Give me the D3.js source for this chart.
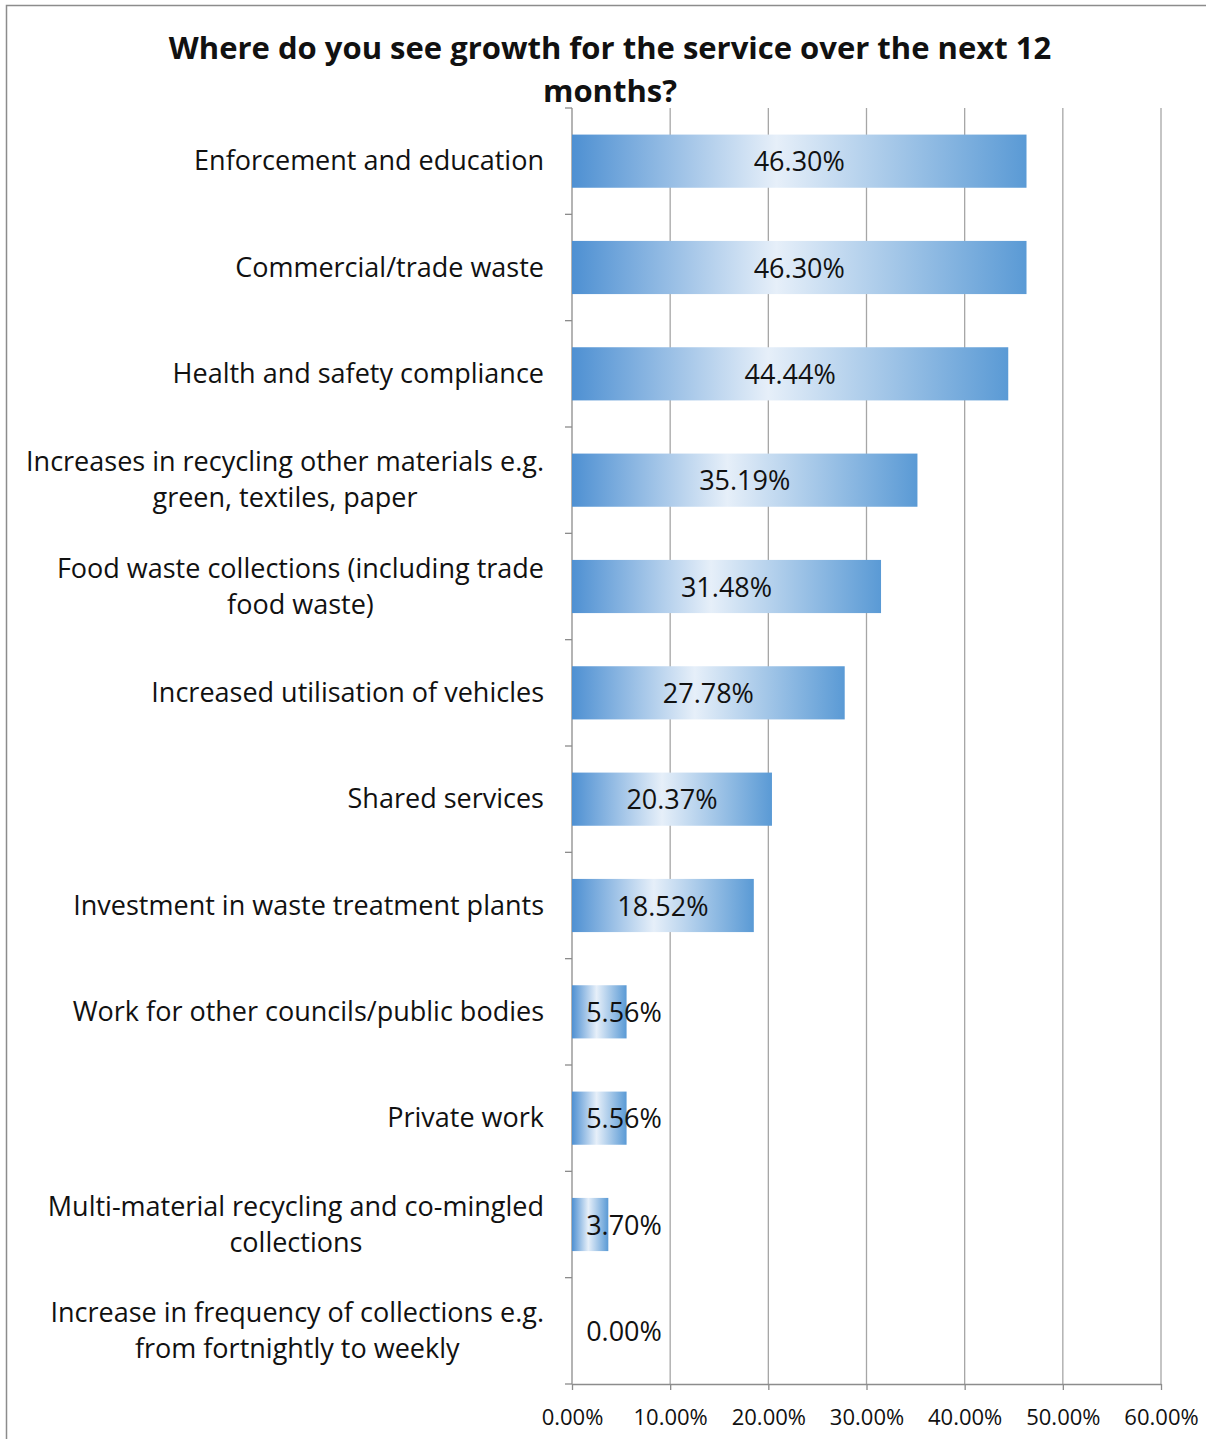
<!DOCTYPE html>
<html>
<head>
<meta charset="utf-8">
<script src="https://cdn.jsdelivr.net/npm/d3@7"></script>
<style>
  body { margin: 0; background: #fff; }
  text { font-family: "Open Sans", "Noto Sans", sans-serif; fill: #111; }
</style>
</head>
<body>
<div id="chart"></div>
<script>
const titleLines = ["Where do you see growth for the service over the next 12", "months?"];

const categories = [
  ["Enforcement and education"],
  ["Commercial/trade waste"],
  ["Health and safety compliance"],
  ["Increases in recycling other materials e.g.", "green, textiles, paper"],
  ["Food waste collections (including trade", "food waste)"],
  ["Increased utilisation of vehicles"],
  ["Shared services"],
  ["Investment in waste treatment plants"],
  ["Work for other councils/public bodies"],
  ["Private work"],
  ["Multi-material recycling and co-mingled", "collections"],
  ["Increase in frequency of collections e.g.", "from fortnightly to weekly"]
];
const values = [46.30, 46.30, 44.44, 35.19, 31.48, 27.78, 20.37, 18.52, 5.56, 5.56, 3.70, 0.00];
const xTicks = [0, 10, 20, 30, 40, 50, 60];

const width = 1206, height = 1439;
const plot = { left: 572, right: 1161, top: 108, bottom: 1384 };

const svg = d3.select("#chart").append("svg")
  .attr("width", width)
  .attr("height", height);

// outer chart border
svg.append("rect")
  .attr("x", 6.5).attr("y", 5.5)
  .attr("width", width + 10).attr("height", height + 10)
  .attr("fill", "none").attr("stroke", "#8c8c8c").attr("stroke-width", 1.5);

const grad = svg.append("defs").append("linearGradient")
  .attr("id", "barGrad")
  .attr("x1", "0%").attr("x2", "100%").attr("y1", "0%").attr("y2", "0%");
grad.append("stop").attr("offset", "0%").attr("stop-color", "#4e90d2");
grad.append("stop").attr("offset", "45%").attr("stop-color", "#e6eff9");
grad.append("stop").attr("offset", "100%").attr("stop-color", "#5a9ad5");

const x = d3.scaleLinear().domain([0, 60]).range([plot.left, plot.right]);
const y = d3.scaleBand()
  .domain(d3.range(categories.length))
  .range([plot.top, plot.bottom])
  .paddingInner(0.5)
  .paddingOuter(0.25);

// title
svg.append("g").selectAll("text")
  .data(titleLines)
  .join("text")
  .attr("x", 610)
  .attr("y", (d, i) => 59 + i * 43)
  .attr("text-anchor", "middle")
  .style("font-weight", "bold")
  .style("font-size", "31px")
  .text(d => d);

// vertical gridlines
svg.append("g").selectAll("line")
  .data(xTicks.slice(1))
  .join("line")
  .attr("x1", d => x(d)).attr("x2", d => x(d))
  .attr("y1", plot.top).attr("y2", plot.bottom)
  .attr("stroke", "#a6a6a6").attr("stroke-width", 1.3);

// x axis
const xAxis = svg.append("g")
  .attr("transform", `translate(0,${plot.bottom})`)
  .call(d3.axisBottom(x).tickValues(xTicks).tickSize(6).tickSizeOuter(0)
    .tickFormat(d => d.toFixed(2) + "%"));
xAxis.select(".domain").attr("stroke", "#8c8c8c").attr("stroke-width", 1.3);
xAxis.selectAll(".tick line").attr("stroke", "#8c8c8c").attr("stroke-width", 1.3);
xAxis.selectAll(".tick text")
  .attr("y", 25)
  .style("font-size", "22px")
  .style("font-family", "'Open Sans', sans-serif")
  .attr("fill", "#111");

// y axis line and category boundary ticks
const bounds = d3.range(categories.length + 1).map(i => plot.top + i * (plot.bottom - plot.top) / categories.length);
svg.append("line")
  .attr("x1", plot.left).attr("x2", plot.left)
  .attr("y1", plot.top).attr("y2", plot.bottom)
  .attr("stroke", "#8c8c8c").attr("stroke-width", 1.3);
svg.append("g").selectAll("line")
  .data(bounds)
  .join("line")
  .attr("x1", plot.left - 7).attr("x2", plot.left)
  .attr("y1", d => d).attr("y2", d => d)
  .attr("stroke", "#8c8c8c").attr("stroke-width", 1.3);

// category labels: block right-aligned, lines centred inside the block
const labelRight = 544;
const labels = svg.append("g").selectAll("text")
  .data(categories)
  .join("text")
  .attr("text-anchor", "middle")
  .style("font-size", "27px")
  .attr("y", (d, i) => y(i) + y.bandwidth() / 2 + 9 - (d.length - 1) * 18);
labels.selectAll("tspan")
  .data(d => d)
  .join("tspan")
  .attr("dy", (d, i) => i === 0 ? 0 : 36)
  .text(d => d);
labels.each(function () {
  const spans = d3.select(this).selectAll("tspan").nodes();
  const maxW = d3.max(spans, n => n.getComputedTextLength());
  spans.forEach(n => n.setAttribute("x", labelRight - maxW / 2));
});

// bars
svg.append("g").selectAll("rect")
  .data(values)
  .join("rect")
  .attr("x", x(0))
  .attr("y", (d, i) => y(i))
  .attr("width", d => x(d) - x(0))
  .attr("height", y.bandwidth())
  .attr("fill", "url(#barGrad)");

// value labels
svg.append("g").selectAll("text")
  .data(values)
  .join("text")
  .attr("text-anchor", "middle")
  .style("font-size", "27px")
  .attr("x", d => Math.max((x(0) + x(d)) / 2, x(0) + 52))
  .attr("y", (d, i) => y(i) + y.bandwidth() / 2 + 10)
  .text(d => d.toFixed(2) + "%");
</script>
</body>
</html>
